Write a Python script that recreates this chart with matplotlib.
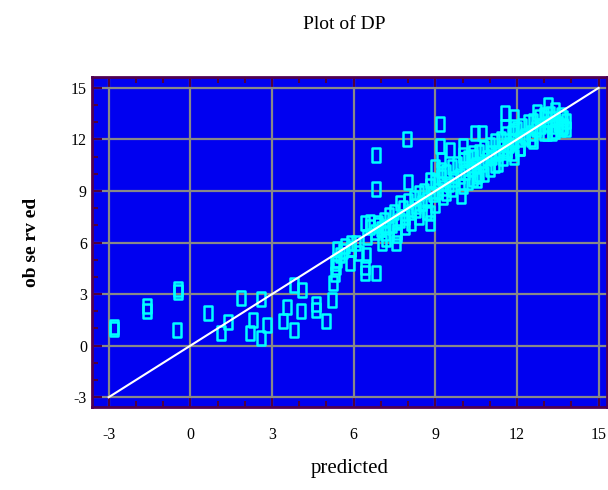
import matplotlib.pyplot as plt
from matplotlib.path import Path
from matplotlib.ticker import MultipleLocator

outlier_x = [-2.82, -2.82, -1.6, -1.6, -0.44, -0.44, -0.5, 0.66, 1.13, 1.4, 1.86, 2.2, 2.3,
             2.6, 2.6, 2.8, 3.8, 3.55, 3.4, 3.8, 4.1, 4.05, 4.6, 4.6, 4.97, 5.2, 5.25, 5.3,
             5.3, 5.37, 5.85, 5.9, 5.9, 6.4, 6.43, 6.47, 6.83, 7.05, 7.55, 7.6]
outlier_y = [1.1, 0.95, 2.0, 2.3, 3.1, 3.3, 0.9, 1.9, 0.75, 1.4, 2.8, 0.75, 1.5,
             2.7, 0.45, 1.2, 3.55, 2.25, 1.45, 0.93, 3.25, 2.0, 2.1, 2.45, 1.45, 2.65, 3.65, 4.2,
             4.8, 5.6, 4.8, 5.6, 6.0, 4.25, 4.6, 5.3, 4.25, 6.0, 6.0, 6.45]

upper_x = [6.83, 6.83, 7.97, 8.0, 9.17, 9.17, 9.95, 8.8, 8.8, 8.8, 9.3, 7.7, 7.7, 8.1, 8.3,
           7.15, 6.9, 6.43, 11.55, 11.9, 12.75, 13.15, 13.4, 13.7, 13.7, 13.1, 12.5, 12.1,
           11.65, 11.55, 10.45, 10.7, 10.4, 10.0, 9.55, 9.2, 9.2, 10.55, 10.55, 11.05,
           11.65, 11.9, 12.3]
upper_y = [11.1, 9.1, 12.0, 9.5, 12.9, 11.6, 8.7, 9.65, 7.7, 7.15, 8.65, 8.3, 7.3, 7.15, 7.9,
           6.55, 7.15, 7.15, 13.55, 13.3, 13.6, 14.0, 13.7, 13.25, 12.7, 12.4, 12.0, 11.5,
           11.3, 12.7, 12.4, 12.4, 11.0, 11.1, 11.4, 10.8, 10.2, 9.85, 9.65, 11.2,
           11.4, 12.7, 12.15]

band_x = [7.0, 7.1, 7.2, 7.3, 7.4, 7.5, 7.6, 7.8, 7.9, 8.0, 8.1, 8.2, 8.3, 8.4, 8.5, 8.6, 8.7,
          8.8, 8.9, 9.0, 9.1, 9.2, 9.3, 9.4, 9.5, 9.6, 9.7, 9.8, 9.9, 10.0, 10.1, 10.2, 10.3,
          10.4, 10.5, 10.6, 10.7, 10.8, 10.9, 11.0, 11.1, 11.2, 11.3, 11.4, 11.5, 11.6, 11.7,
          11.8, 11.9, 12.0, 12.1, 12.2, 12.3, 12.4, 12.5, 12.6, 12.7, 12.8, 12.9, 13.0, 13.1,
          13.2, 13.3, 13.4, 13.5, 13.6, 13.7, 13.8, 13.8, 13.6, 13.4, 13.0,
          9.4, 9.6, 10.0, 10.2, 10.4, 10.8, 11.0, 11.3, 11.5, 11.8, 12.1, 8.4, 8.7, 9.0,
          7.6, 7.9, 7.2, 5.5, 5.6, 5.7, 5.9, 6.1, 6.2, 6.5, 6.6, 6.6, 6.8, 6.9, 5.4, 5.35,
          10.6, 11.2, 11.9, 12.6, 13.3, 10.0, 9.0]
band_y = [6.8, 7.3, 6.9, 7.6, 7.0, 7.8, 7.2, 8.0, 7.5, 8.4, 7.8, 8.6, 8.1, 8.9, 8.3, 9.0, 8.5,
          9.3, 8.8, 9.5, 9.0, 9.8, 9.2, 10.1, 9.4, 10.4, 9.7, 10.6, 9.9, 10.8, 10.1, 10.9, 10.3,
          11.2, 10.5, 11.3, 10.6, 11.5, 10.9, 11.7, 11.0, 11.9, 11.2, 12.0, 11.5, 12.3, 11.7,
          12.4, 11.9, 12.6, 12.0, 12.8, 12.2, 13.0, 12.4, 13.1, 12.6, 13.3, 12.8, 13.4, 12.9,
          13.5, 12.8, 13.2, 12.9, 13.4, 12.8, 13.1, 12.6, 12.6, 12.5, 12.4,
          8.9, 9.1, 9.3, 9.5, 9.7, 10.0, 10.3, 10.6, 10.9, 11.2, 11.5, 7.5, 7.8, 8.2,
          6.6, 6.9, 6.2, 5.3, 5.5, 5.8, 5.6, 6.0, 5.4, 6.3, 6.9, 7.2, 6.6, 7.0, 5.0, 4.6,
          10.0, 10.5, 11.0, 11.9, 12.4, 11.6, 10.4]

ticks = [-3, 0, 3, 6, 9, 12, 15]

pred = outlier_x + upper_x + band_x
obs = outlier_y + upper_y + band_y

# tall narrow box marker
box = Path([(-0.6, -1), (0.6, -1), (0.6, 1), (-0.6, 1), (-0.6, -1)],
           [Path.MOVETO, Path.LINETO, Path.LINETO, Path.LINETO, Path.CLOSEPOLY])

plt.rcParams['font.family'] = 'Liberation Serif'
plt.rcParams['axes.unicode_minus'] = False

fig = plt.figure(figsize=(6.08, 4.90), dpi=100)
ax = fig.add_axes([0.151, 0.169, 0.847, 0.674])
ax.set_facecolor('#0000F0')

ax.grid(True, color='#888888', linewidth=1.6, zorder=0)
ax.set_axisbelow(True)

ax.plot(pred, obs, linestyle='none', marker=box, markersize=10.5,
        markerfacecolor='none', markeredgecolor='#00FFFF', markeredgewidth=1.8, zorder=3)
ax.plot([-3, 15], [-3, 15], color='white', linewidth=1.5, zorder=4)

ax.set_xlim(-3.62, 15.3)
ax.set_ylim(-3.58, 15.64)
ax.set_xticks(ticks)
ax.set_yticks(ticks)
ax.xaxis.set_minor_locator(MultipleLocator(1))
ax.yaxis.set_minor_locator(MultipleLocator(1))
ax.tick_params(which='both', direction='in', color='#500040', width=1.5,
               top=True, right=False, labelsize=11.5)
ax.tick_params(which='major', length=7)
ax.tick_params(which='minor', length=4)
ax.tick_params(axis='x', pad=14)
for s in ax.spines.values():
    s.set_color('#500050')
    s.set_linewidth(2)

ax.set_xlabel('predicted', fontsize=15, labelpad=12)
ax.set_ylabel('ob se rv ed', fontsize=14, fontweight='bold', labelpad=22)
fig.text(0.567, 0.95, 'Plot of DP', ha='center', va='center', fontsize=14)

fig.savefig('out.png', dpi=100)
